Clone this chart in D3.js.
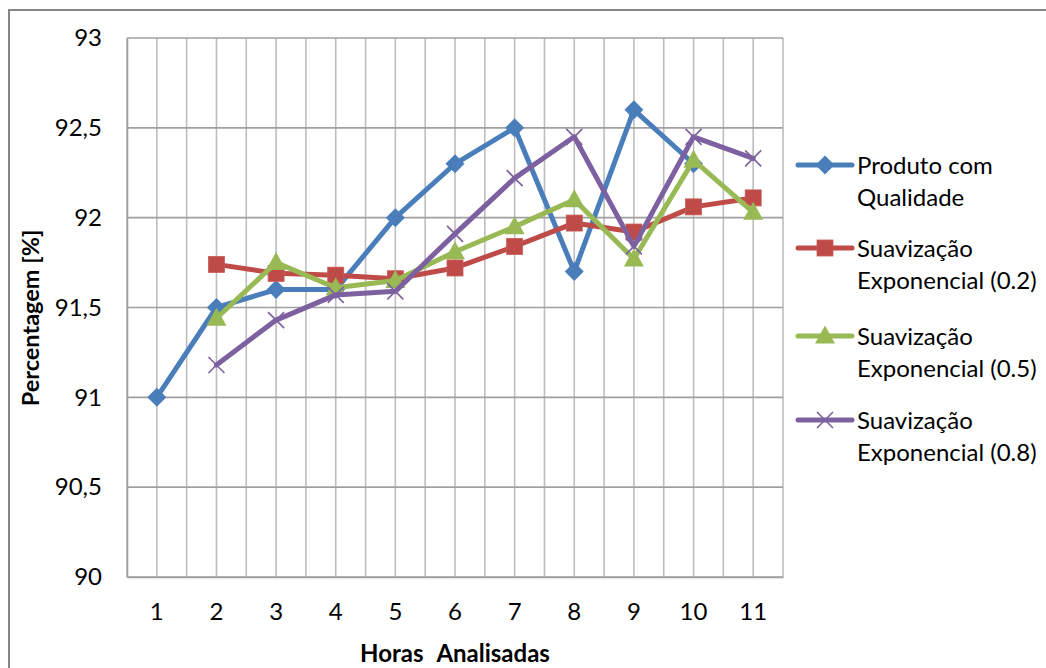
<!DOCTYPE html>
<html>
<head>
<meta charset="utf-8">
<script src="https://cdn.jsdelivr.net/npm/d3@7"></script>
<style>
  html, body { margin: 0; padding: 0; background: #fff; }
  svg { display: block; }
  text { font-family: Lato, "Open Sans", sans-serif; fill: #000; }
</style>
</head>
<body>
<svg id="chart" width="1046" height="668"></svg>
<script>
// Hours analysed (x categories)
const horas = [1, 2, 3, 4, 5, 6, 7, 8, 9, 10, 11];

// Quality product percentage, observed per hour
const produtoQualidade = [91.0, 91.5, 91.6, 91.6, 92.0, 92.3, 92.5, 91.7, 92.6, 92.3, null];
// Exponential smoothing forecasts
const suavizacao02 = [null, 91.74, 91.69, 91.68, 91.66, 91.72, 91.84, 91.97, 91.92, 92.06, 92.11];
const suavizacao05 = [null, 91.44, 91.75, 91.61, 91.65, 91.81, 91.95, 92.10, 91.77, 92.32, 92.03];
const suavizacao08 = [null, 91.18, 91.43, 91.57, 91.59, 91.91, 92.22, 92.45, 91.84, 92.45, 92.33];

const yTicks = [90, 90.5, 91, 91.5, 92, 92.5, 93];

const seriesNames = [
  ["Produto com", "Qualidade"],
  ["Suavização", "Exponencial (0.2)"],
  ["Suavização", "Exponencial (0.5)"],
  ["Suavização", "Exponencial (0.8)"]
];

const series = [
  { name: seriesNames[0], values: produtoQualidade, color: "#4A7EBB", marker: "diamond" },
  { name: seriesNames[1], values: suavizacao02, color: "#BE4B48", marker: "square" },
  { name: seriesNames[2], values: suavizacao05, color: "#98B954", marker: "triangle" },
  { name: seriesNames[3], values: suavizacao08, color: "#7D60A0", marker: "cross" }
];

const svg = d3.select("#chart");

// Outer chart frame (runs past the right and bottom edges)
svg.append("rect")
  .attr("x", 9).attr("y", 10)
  .attr("width", 1100).attr("height", 700)
  .attr("fill", "none").attr("stroke", "#868686").attr("stroke-width", 2);

const plot = { left: 127, right: 783, top: 38, bottom: 577 };

const x = d3.scaleBand().domain(horas).range([plot.left, plot.right]).padding(0);
const cx = d => x(d) + x.bandwidth() / 2;
const y = d3.scaleLinear().domain([90, 93]).range([plot.bottom, plot.top]);

const ptBR = d3.formatLocale({ decimal: ",", thousands: ".", grouping: [3], currency: ["R$", ""] });
const fmt = ptBR.format("~g");

// Vertical gridlines: at band boundaries and at category centres
const vLines = [];
horas.forEach(h => { vLines.push(x(h)); vLines.push(cx(h)); });
vLines.push(plot.right);
svg.append("g").selectAll("line").data(vLines).join("line")
  .attr("x1", d => d).attr("x2", d => d)
  .attr("y1", plot.top).attr("y2", plot.bottom)
  .attr("stroke", "#BDBDBD").attr("stroke-width", 1.6);

// Horizontal gridlines
svg.append("g").selectAll("line").data(yTicks).join("line")
  .attr("x1", plot.left).attr("x2", plot.right)
  .attr("y1", d => y(d)).attr("y2", d => y(d))
  .attr("stroke", "#A0A0A0").attr("stroke-width", 1.6);

// Y axis
const yAxis = svg.append("g")
  .attr("transform", `translate(${plot.left},0)`)
  .call(d3.axisLeft(y).tickValues(yTicks).tickFormat(fmt).tickSize(0).tickPadding(25));
yAxis.select(".domain").attr("stroke", "#A0A0A0").attr("stroke-width", 1.6);
yAxis.selectAll("text").style("font-size", "24px").style("font-family", "Lato, sans-serif").attr("fill", "#000");

// X axis
const xAxis = svg.append("g")
  .attr("transform", `translate(0,${plot.bottom})`)
  .call(d3.axisBottom(x).tickSize(0).tickPadding(26));
xAxis.select(".domain").attr("stroke", "#A0A0A0").attr("stroke-width", 1.6);
xAxis.selectAll("text").style("font-size", "24px").style("font-family", "Lato, sans-serif").attr("fill", "#000");

// Axis titles
svg.append("text")
  .attr("transform", "translate(39,318) rotate(-90)")
  .attr("text-anchor", "middle")
  .style("font-size", "23.5px").style("font-weight", "bold")
  .text("Percentagem [%]");
svg.append("text")
  .attr("x", (plot.left + plot.right) / 2).attr("y", 662)
  .attr("text-anchor", "middle")
  .style("font-size", "24px").style("font-weight", "bold")
  .style("white-space", "pre").style("word-spacing", "1px").attr("xml:space", "preserve")
  .text("Horas  Analisadas");

// Marker drawing
function drawMarker(g, type, color) {
  if (type === "diamond") {
    g.append("path").attr("d", "M0,-9.5L9.5,0L0,9.5L-9.5,0Z").attr("fill", color);
  } else if (type === "square") {
    g.append("rect").attr("x", -8).attr("y", -8).attr("width", 16).attr("height", 16)
      .attr("fill", color).attr("stroke", "#C85A57").attr("stroke-width", 0.8);
  } else if (type === "triangle") {
    g.append("path").attr("d", "M0,-10.5L10,7.5L-10,7.5Z").attr("fill", color);
  } else if (type === "cross") {
    g.append("path").attr("d", "M-8,-8L8,8M-8,8L8,-8")
      .attr("stroke", color).attr("stroke-width", 1.6).attr("fill", "none");
  }
}

const line = d3.line()
  .defined(d => d.v !== null)
  .x(d => cx(d.h))
  .y(d => y(d.v));

series.forEach(s => {
  const pts = horas.map((h, i) => ({ h, v: s.values[i] }));
  const g = svg.append("g");
  g.append("path").datum(pts)
    .attr("d", line)
    .attr("fill", "none").attr("stroke", s.color)
    .attr("stroke-width", 5).attr("stroke-linejoin", "round").attr("stroke-linecap", "round");
  pts.filter(p => p.v !== null).forEach(p => {
    const m = g.append("g").attr("transform", `translate(${cx(p.h)},${y(p.v)})`);
    drawMarker(m, s.marker, s.color);
  });
});

// Legend
const legendY = [165, 248, 336, 420];
series.forEach((s, i) => {
  const g = svg.append("g").attr("transform", `translate(0,${legendY[i]})`);
  g.append("line").attr("x1", 798).attr("x2", 852).attr("y1", 0).attr("y2", 0)
    .attr("stroke", s.color).attr("stroke-width", 5).attr("stroke-linecap", "round");
  const m = g.append("g").attr("transform", "translate(825,0)");
  drawMarker(m, s.marker, s.color);
  g.append("text").attr("x", 857).attr("y", 9).style("font-size", "24px").text(s.name[0]);
  g.append("text").attr("x", 857).attr("y", 41).style("font-size", "24px").text(s.name[1]);
});
</script>
</body>
</html>
